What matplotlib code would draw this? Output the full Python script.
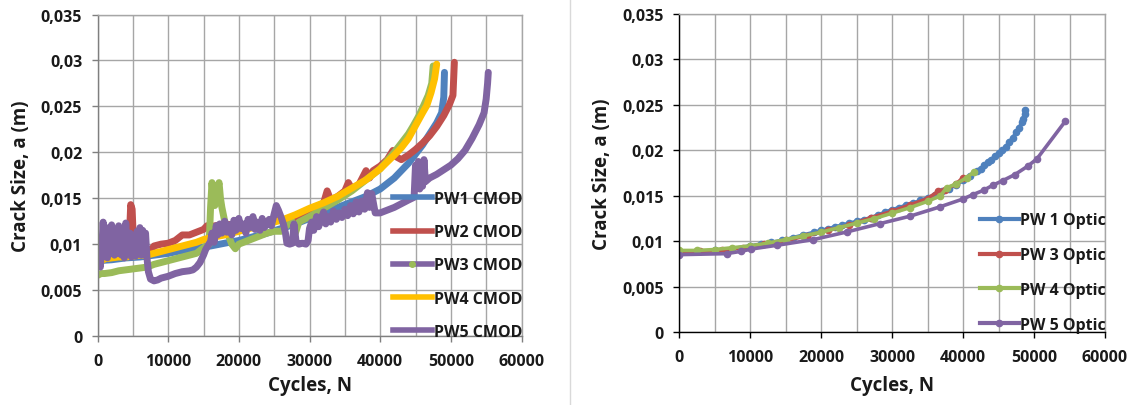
import matplotlib
matplotlib.use("Agg")
import matplotlib.pyplot as plt
from matplotlib.lines import Line2D
from matplotlib.ticker import MultipleLocator, FixedLocator, FixedFormatter
from matplotlib import font_manager

# pick a bold-capable sans family
_available = {f.name for f in font_manager.fontManager.ttflist if f.weight in (600, 700, 'bold')}
for _fam in ('Open Sans', 'Lato', 'Noto Sans', 'Liberation Sans'):
    if _fam in _available:
        FAMILY = _fam
        break
else:
    FAMILY = 'DejaVu Sans'
plt.rcParams['font.family'] = [FAMILY, 'DejaVu Sans']
plt.rcParams['font.weight'] = 'bold'

# ---------------- CMOD measurements (left) ----------------
pw1_cmod_n = [0, 2000, 4000, 6000, 8000, 10000, 12000, 14000, 16000, 18000, 20000,
              22000, 24000, 26000, 28000, 30000, 32000, 34000, 36000, 38000, 40000,
              42000, 44000, 45000, 46000, 47000, 48000, 48700, 49000, 49100]
pw1_cmod_a = [0.0082, 0.0083, 0.0085, 0.0086, 0.0088, 0.0090, 0.0093, 0.0096, 0.0098, 0.0101, 0.0104,
              0.0108, 0.0112, 0.0117, 0.0122, 0.0128, 0.0134, 0.0140, 0.0146, 0.0152, 0.0160,
              0.0172, 0.0188, 0.0198, 0.0208, 0.0220, 0.0232, 0.0243, 0.0260, 0.0287]

pw2_cmod_n = [0, 500, 1000, 1500, 2000, 2500, 3000, 3500, 4000, 4500, 4700, 4900, 5100, 5500,
              6000, 6500, 7000, 7500, 8000, 9000, 10000, 11000, 12000, 13000, 14000, 15000,
              15500, 16000, 18000, 20000, 22000, 24000, 26000, 28000, 30000, 31000, 32000,
              32500, 33000, 34000, 35000, 35500, 36000, 37000, 38000, 38500, 39000, 40000,
              41000, 41800, 42300, 43000, 44000, 45000, 46000, 47000, 48000, 49000, 49800,
              50300, 50400, 50500]
pw2_cmod_a = [0.0093, 0.0100, 0.0095, 0.0098, 0.0096, 0.0099, 0.0097, 0.0100, 0.0098, 0.0105,
              0.0143, 0.0138, 0.0100, 0.0098, 0.0099, 0.0096, 0.0094, 0.0093, 0.0098, 0.0100,
              0.0101, 0.0104, 0.0110, 0.0110, 0.0113, 0.0116, 0.0120, 0.0119, 0.0122, 0.0120,
              0.0122, 0.0125, 0.0126, 0.0128, 0.0134, 0.0140, 0.0145, 0.0158, 0.0148, 0.0152,
              0.0158, 0.0167, 0.0160, 0.0165, 0.0180, 0.0172, 0.0180, 0.0185, 0.0192, 0.0202,
              0.0195, 0.0192, 0.0197, 0.0203, 0.0210, 0.0218, 0.0228, 0.0240, 0.0252, 0.0262,
              0.0280, 0.0298]

pw3_cmod_n = [0, 500, 1000, 2000, 3000, 4000, 5000, 6000, 7000, 8000, 9000, 10000, 11000,
              12000, 13000, 14000, 15000, 15800, 16000, 16200, 16400, 16600, 16800, 17000,
              17200, 17400, 17600, 18000, 18500, 19000, 19500, 20000, 21000, 22000, 23000,
              24000, 25000, 26000, 26500, 27000, 27500, 28000, 28500, 29000, 30000, 32000,
              34000, 36000, 38000, 40000, 42000, 43000, 44000, 44700, 45500, 46100, 46800,
              47300, 47500]
pw3_cmod_a = [0.0066, 0.0068, 0.0068, 0.0069, 0.0071, 0.0072, 0.0073, 0.0074, 0.0075, 0.0078,
              0.0080, 0.0082, 0.0084, 0.0086, 0.0088, 0.0090, 0.0096, 0.0100, 0.0140, 0.0167,
              0.0150, 0.0142, 0.0150, 0.0160, 0.0167, 0.0150, 0.0140, 0.0125, 0.0110, 0.0100,
              0.0095, 0.0100, 0.0103, 0.0106, 0.0109, 0.0112, 0.0114, 0.0114, 0.0118, 0.0122,
              0.0125, 0.0112, 0.0124, 0.0126, 0.0130, 0.0139, 0.0148, 0.0158, 0.0170, 0.0182,
              0.0200, 0.0210, 0.0220, 0.0229, 0.0240, 0.0250, 0.0262, 0.0275, 0.0294]

pw4_cmod_n = [0, 300, 600, 1000, 2000, 3000, 4000, 5000, 6000, 7000, 8000, 9000, 10000,
              11000, 12000, 13000, 14000, 15000, 16000, 18000, 20000, 22000, 24000, 26000,
              27000, 28000, 30000, 32000, 34000, 36000, 38000, 40000, 42000, 43000, 44000,
              45000, 46000, 46600, 47200, 47700, 48000]
pw4_cmod_a = [0.0080, 0.0088, 0.0082, 0.0084, 0.0085, 0.0086, 0.0086, 0.0087, 0.0088, 0.0088,
              0.0090, 0.0092, 0.0094, 0.0096, 0.0098, 0.0100, 0.0102, 0.0105, 0.0107, 0.0110,
              0.0114, 0.0118, 0.0122, 0.0126, 0.0129, 0.0132, 0.0139, 0.0145, 0.0152, 0.0161,
              0.0170, 0.0182, 0.0197, 0.0205, 0.0215, 0.0229, 0.0243, 0.0251, 0.0265, 0.0280,
              0.0296]

pw5_cmod_n = [0, 200, 400, 600, 800, 1000, 1200, 1400, 1600, 1800, 2000, 2200, 2400, 2600,
              2800, 3000, 3200, 3400, 3600, 3800, 4000, 4200, 4400, 4600, 4800, 5000, 5200,
              5400, 5600, 5800, 6000, 6200, 6400, 6600, 6800, 7000, 7200, 7500, 8000, 8500,
              9000, 9500, 10000, 11000, 12000, 13000, 13500, 14000, 14500, 15000, 15300,
              15600, 16000, 16200, 16500, 16800, 17000, 17300, 17600, 18000, 18300, 18600,
              19000, 19300, 19600, 20000, 20300, 20600, 21000, 21300, 21600, 22000, 22300,
              22600, 23000, 23300, 23600, 24000, 24300, 24600, 25000, 25300, 25600, 26000,
              26300, 26600, 26800, 27200, 27600, 27800, 28100, 28500, 29000, 29500, 29800,
              30000, 30300, 30600, 31000, 31300, 31600, 32000, 32300, 32700, 33000, 33400,
              33800, 34200, 34600, 35000, 35400, 35800, 36200, 36600, 37000, 37400, 37800,
              38200, 38500, 38800, 39100, 39300, 40000, 41000, 42000, 43000, 44000, 44800,
              45000, 45200, 45400, 45600, 45800, 46000, 46200, 46400, 46700, 47000, 48000,
              49000, 50000, 51000, 52000, 53000, 54000, 54700, 55000, 55200, 55300]
pw5_cmod_a = [0.0100, 0.0088, 0.0075, 0.0095, 0.0124, 0.0092, 0.0110, 0.0085, 0.0118, 0.0090,
              0.0121, 0.0095, 0.0088, 0.0116, 0.0090, 0.0120, 0.0098, 0.0088, 0.0112, 0.0085,
              0.0123, 0.0090, 0.0100, 0.0112, 0.0086, 0.0108, 0.0090, 0.0087, 0.0114, 0.0092,
              0.0118, 0.0088, 0.0115, 0.0092, 0.0112, 0.0085, 0.0070, 0.0062, 0.0060, 0.0061,
              0.0063, 0.0064, 0.0065, 0.0068, 0.0070, 0.0071, 0.0072, 0.0075, 0.0080, 0.0088,
              0.0094, 0.0098, 0.0103, 0.0112, 0.0102, 0.0120, 0.0110, 0.0122, 0.0112, 0.0125,
              0.0113, 0.0121, 0.0110, 0.0126, 0.0115, 0.0128, 0.0117, 0.0122, 0.0112, 0.0127,
              0.0118, 0.0130, 0.0116, 0.0124, 0.0115, 0.0128, 0.0118, 0.0122, 0.0127, 0.0120,
              0.0133, 0.0142, 0.0137, 0.0129, 0.0122, 0.0112, 0.0101, 0.0100, 0.0101, 0.0122,
              0.0103, 0.0100, 0.0101, 0.0100, 0.0104, 0.0117, 0.0124, 0.0115, 0.0130, 0.0119,
              0.0127, 0.0135, 0.0122, 0.0130, 0.0124, 0.0136, 0.0127, 0.0134, 0.0129, 0.0138,
              0.0131, 0.0142, 0.0133, 0.0146, 0.0135, 0.0147, 0.0138, 0.0156, 0.0140, 0.0155,
              0.0142, 0.0134, 0.0134, 0.0137, 0.0140, 0.0144, 0.0148, 0.0151, 0.0186, 0.0162,
              0.0190, 0.0160, 0.0178, 0.0163, 0.0192, 0.0168, 0.0170, 0.0172, 0.0176, 0.0181,
              0.0186, 0.0193, 0.0202, 0.0215, 0.0230, 0.0243, 0.0258, 0.0275, 0.0287]

# ---------------- Optical measurements (right) ----------------
pw1_opt_n = [0, 2500, 5000, 7500, 10000, 11500, 13000, 14500, 16000, 17500, 19000, 20000,
             21000, 22000, 23000, 24000, 25000, 26000, 27000, 28000, 29000, 30000, 31000,
             32000, 33000, 34000, 35000, 36000, 37000, 38000, 39000, 40000, 41000, 42000,
             42500, 43000, 43500, 44000, 44500, 45000, 45500, 46000, 46500, 47000, 47500,
             47900, 48300, 48500, 48700, 48800]
pw1_opt_a = [0.0088, 0.0089, 0.0090, 0.0092, 0.0095, 0.0097, 0.0099, 0.0101, 0.0104, 0.0107,
             0.0110, 0.0112, 0.0114, 0.0116, 0.0118, 0.0120, 0.0122, 0.0124, 0.0126, 0.0129,
             0.0132, 0.0135, 0.0137, 0.0140, 0.0142, 0.0145, 0.0148, 0.0151, 0.0155, 0.0158,
             0.0162, 0.0167, 0.0172, 0.0177, 0.0180, 0.0184, 0.0187, 0.0190, 0.0194, 0.0197,
             0.0200, 0.0204, 0.0209, 0.0214, 0.0220, 0.0225, 0.0231, 0.0235, 0.0240, 0.0244]

pw3_opt_n = [0, 3000, 6000, 9000, 12000, 15000, 18000, 21000, 24000, 27000, 30000, 32500,
             35000, 36500, 37500, 39000, 40000]
pw3_opt_a = [0.0088, 0.0089, 0.0090, 0.0093, 0.0097, 0.0101, 0.0106, 0.0112, 0.0118, 0.0126,
             0.0133, 0.0140, 0.0147, 0.0155, 0.0157, 0.0163, 0.0170]

pw4_opt_n = [0, 2500, 5000, 7500, 10000, 12500, 15000, 17500, 20000, 22500, 25000, 27500,
             30000, 32500, 35000, 36800, 37700, 39000, 40500, 41500]
pw4_opt_a = [0.0090, 0.0090, 0.0091, 0.0093, 0.0095, 0.0098, 0.0102, 0.0106, 0.0110, 0.0115,
             0.0120, 0.0125, 0.0131, 0.0137, 0.0144, 0.0150, 0.0159, 0.0163, 0.0170, 0.0176]

pw5_opt_n = [0, 6700, 8800, 10200, 13800, 18900, 23600, 28300, 32500, 36700, 40000, 41400,
             42900, 44200, 45600, 47300, 49100, 50400, 54400]
pw5_opt_a = [0.00854, 0.00865, 0.00891, 0.00916, 0.00957, 0.01019, 0.01103, 0.01195, 0.01276,
             0.01378, 0.01466, 0.01514, 0.01562, 0.01617, 0.01668, 0.01734, 0.01826, 0.01906,
             0.0232]

# ---------------- labels and styling ----------------
cmod_labels = ['PW1 CMOD', 'PW2 CMOD', 'PW3 CMOD', 'PW4 CMOD', 'PW5 CMOD']
optic_labels = ['PW 1 Optic', 'PW 3 Optic', 'PW 4 Optic', 'PW 5 Optic']
x_ticks = [0, 10000, 20000, 30000, 40000, 50000, 60000]
x_ticklabels = ['0', '10000', '20000', '30000', '40000', '50000', '60000']
y_ticks = [0, 0.005, 0.01, 0.015, 0.02, 0.025, 0.03, 0.035]
y_ticklabels = ['0', '0,005', '0,01', '0,015', '0,02', '0,025', '0,03', '0,035']
x_title = 'Cycles, N'
y_title = 'Crack Size, a (m)'

BLUE, RED, GREEN, PURPLE, YELLOW = '#4F81BD', '#C0504D', '#9BBB59', '#8064A2', '#FFC000'
TEXT = '#1A1A1A'

fig = plt.figure(figsize=(11.4, 4.06), dpi=100)
fig.patch.set_facecolor('white')

ax1 = fig.add_axes([97.5 / 1140, (406 - 337) / 406, 424 / 1140, 321.5 / 406])
ax2 = fig.add_axes([679 / 1140, (406 - 333.3) / 406, 426 / 1140, 318.3 / 406])

# light divider between the two panels
fig.add_artist(Line2D([570 / 1140, 570 / 1140], [0.0, 1.0], color='#D9D9D9', lw=1.0))


def style_axes(ax, spine_color, grid_color):
    ax.set_xlim(0, 60000)
    ax.set_ylim(0, 0.035)
    ax.xaxis.set_major_locator(FixedLocator(x_ticks))
    ax.xaxis.set_major_formatter(FixedFormatter(x_ticklabels))
    ax.xaxis.set_minor_locator(MultipleLocator(5000))
    ax.yaxis.set_major_locator(FixedLocator(y_ticks))
    ax.yaxis.set_major_formatter(FixedFormatter(y_ticklabels))
    ax.grid(True, which='both', color=grid_color, lw=1.0)
    ax.set_axisbelow(True)
    ax.tick_params(which='major', direction='out', length=4, width=1.0,
                   color=spine_color, labelsize=11.5, pad=7)
    ax.tick_params(axis='x', which='major', pad=8)
    ax.tick_params(which='minor', length=0)
    for side in ('left', 'bottom'):
        ax.spines[side].set_color(spine_color)
        ax.spines[side].set_linewidth(1.0)
    for side in ('top', 'right'):
        ax.spines[side].set_color(grid_color)
        ax.spines[side].set_linewidth(1.0)
    for lab in ax.get_xticklabels() + ax.get_yticklabels():
        lab.set_fontweight('bold')
        lab.set_color(TEXT)
    ax.set_xlabel(x_title, fontsize=13.5, fontweight='bold', color=TEXT)
    ax.set_ylabel(y_title, fontsize=13.5, fontweight='bold', color=TEXT)


style_axes(ax1, '#7F7F7F', '#A6A6A6')
style_axes(ax2, '#000000', '#A6A6A6')

ax1.xaxis.set_label_coords(0.5, -0.121)
ax1.yaxis.set_label_coords(-0.157, 0.5)
ax2.xaxis.set_label_coords(0.5, -0.134)
ax2.yaxis.set_label_coords(-0.157, 0.5)

# left panel: dense CMOD traces
cmod_kw = dict(lw=5.0, solid_joinstyle='round', solid_capstyle='round')
ax1.plot(pw1_cmod_n, pw1_cmod_a, color=BLUE, **cmod_kw)
ax1.plot(pw2_cmod_n, pw2_cmod_a, color=RED, **cmod_kw)
ax1.plot(pw3_cmod_n, pw3_cmod_a, color=GREEN, **cmod_kw)
ax1.plot(pw4_cmod_n, pw4_cmod_a, color=YELLOW, **cmod_kw)
ax1.plot(pw5_cmod_n, pw5_cmod_a, color=PURPLE, **cmod_kw)

cmod_handles = [
    Line2D([], [], color=BLUE, lw=4),
    Line2D([], [], color=RED, lw=4),
    Line2D([], [], color=PURPLE, lw=4, marker='o', markersize=4,
           markerfacecolor=GREEN, markeredgecolor=GREEN),
    Line2D([], [], color=YELLOW, lw=4),
    Line2D([], [], color=PURPLE, lw=4),
]
leg1 = ax1.legend(cmod_handles, cmod_labels, loc='lower right', bbox_to_anchor=(1.01, -0.022),
                  frameon=False, prop={'size': 11.5, 'weight': 'bold'},
                  handlelength=2.4, handletextpad=0.15, labelspacing=1.08,
                  borderaxespad=0.0, borderpad=0.2)

# right panel: optical measurements with markers
opt_kw = dict(lw=2.6, marker='o', markersize=4.5)
ax2.plot(pw1_opt_n, pw1_opt_a, color=BLUE, **opt_kw)
ax2.plot(pw3_opt_n, pw3_opt_a, color=RED, **opt_kw)
ax2.plot(pw4_opt_n, pw4_opt_a, color=GREEN, **opt_kw)
ax2.plot(pw5_opt_n, pw5_opt_a, color=PURPLE, **opt_kw)

opt_handles = [Line2D([], [], color=c, lw=3, marker='o', markersize=4.5)
               for c in (BLUE, RED, GREEN, PURPLE)]
leg2 = ax2.legend(opt_handles, optic_labels, loc='lower right', bbox_to_anchor=(1.01, -0.012),
                  frameon=False, prop={'size': 11.5, 'weight': 'bold'},
                  handlelength=2.4, handletextpad=0.1, labelspacing=1.18,
                  borderaxespad=0.0, borderpad=0.2)
for leg in (leg1, leg2):
    for t in leg.get_texts():
        t.set_color(TEXT)

fig.savefig('out.png', dpi=100, facecolor='white')
